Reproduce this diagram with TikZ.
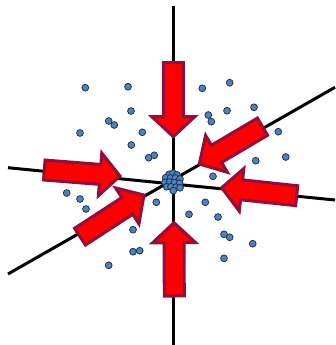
\documentclass[tikz,border=0pt]{standalone}
\usetikzlibrary{calc}
\definecolor{arrowfill}{RGB}{255,0,0}
\definecolor{arrowline}{RGB}{145,15,60}
\definecolor{dotfill}{RGB}{79,129,189}
\definecolor{dotline}{RGB}{30,50,90}
\tikzset{
  axisline/.style={line width=3pt, black},
  dotstyle/.style={circle, fill=dotfill, draw=dotline, line width=0.8pt, minimum size=6.8pt, inner sep=0pt},
  bigarrow/.style={fill=arrowfill, draw=arrowline, line width=3pt, line join=miter}
}
\newcommand{\blockarrow}[2]{%
  \coordinate (#1b) at ($(#2)!20pt!(#1)$);
  \draw[bigarrow]
    ($(#1)!10pt!90:(#2)$) -- ($(#1b)!10pt!-90:(#1)$) -- ($(#1b)!21.5pt!-90:(#1)$) -- (#2)
    -- ($(#1b)!21.5pt!90:(#1)$) -- ($(#1b)!10pt!90:(#1)$) -- ($(#1)!10pt!-90:(#2)$) -- cycle;
}
\begin{document}
\begin{tikzpicture}[x=1pt,y=-1pt]
\useasboundingbox (0,0) rectangle (335,345);
% axes
\coordinate (vtop) at (173.3,5.7);
\coordinate (vbot) at (173.3,345);
\coordinate (hl) at (8,167.7);
\coordinate (hr) at (335,200);
\coordinate (dl) at (8,274);
\coordinate (dr) at (335,87.3);
\draw[axisline] (vtop) -- (vbot);
\draw[axisline] (hl) -- (hr);
\draw[axisline] (dl) -- (dr);
% scattered dots
\foreach \i/\p in {1/{(85.3,87.7)},2/{(128,86.7)},3/{(202.3,88.3)},4/{(229.7,82.7)},
  5/{(131,111)},6/{(108.7,121)},7/{(114.3,125)},8/{(208.3,115)},9/{(211.3,121.7)},
  10/{(227,110.7)},11/{(254,107.3)},12/{(80,133)},13/{(142.3,132.3)},14/{(131.3,145)},
  15/{(278.3,131.7)},16/{(148.7,157.7)},17/{(154.3,155.3)},18/{(255.7,160.7)},
  19/{(285.7,157)},20/{(213,176.3)},21/{(66.7,193)},22/{(80,199)},23/{(86,209)},
  24/{(156.3,202.3)},25/{(205.3,202.3)},26/{(189,214.3)},27/{(218,217)},
  28/{(133,229.7)},29/{(224,234.3)},30/{(229.7,237.3)},31/{(252.7,243.7)},
  32/{(133,251.7)},33/{(139.7,250.7)},34/{(224,258.3)},35/{(108.7,265.3)}}
  \node[dotstyle] (d\i) at \p {};
% central cluster
\foreach \i/\p in {1/{(169,174.3)},2/{(173,173.3)},3/{(177,174.8)},4/{(165.7,177.7)},
  5/{(170.5,178)},6/{(175.3,178)},7/{(180,179)},8/{(165,182.3)},9/{(169.6,182)},
  10/{(174.3,182.5)},11/{(179.5,183.3)},12/{(166.7,186.7)},13/{(171,186.7)},
  14/{(176,187.2)},15/{(180,187.8)},16/{(173.3,190.7)}}
  \node[dotstyle] (c\i) at \p {};
% arrows (tail, tip)
\coordinate (at) at (173.3,62.7);  \coordinate (ah) at (173.3,136.7);
\coordinate (bt) at (174.3,296);   \coordinate (bh) at (174,222.7);
\coordinate (lt) at (44.3,170);    \coordinate (lh) at (120,176);
\coordinate (rt) at (296.7,195.7); \coordinate (rh) at (221.7,187.7);
\coordinate (ut) at (262.5,126.7); \coordinate (uh) at (199.3,164);
\coordinate (gt) at (80,236.7);    \coordinate (gh) at (144,195);
\blockarrow{at}{ah}
\blockarrow{bt}{bh}
\blockarrow{lt}{lh}
\blockarrow{rt}{rh}
\blockarrow{ut}{uh}
\blockarrow{gt}{gh}
\end{tikzpicture}
\end{document}
